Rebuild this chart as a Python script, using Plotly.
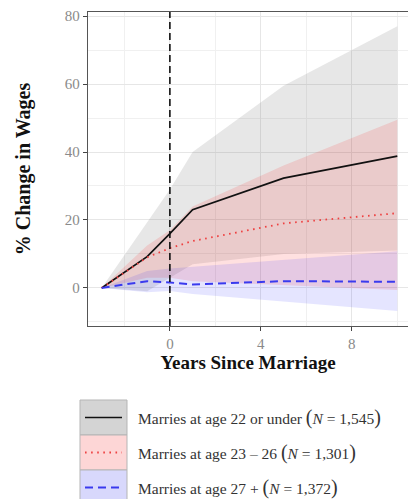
import plotly.graph_objects as go

# ---- data ----
years = [-3, -1, 0, 1, 5, 10]

young_mean = [0, 9.2, 16.0, 23.0, 32.3, 38.8]
young_lo = [0, -1.0, 3.0, 7.0, 10.0, 11.0]
young_hi = [0, 19.5, 29.0, 40.0, 59.5, 77.0]

mid_mean = [0, 9.0, 11.7, 13.8, 19.0, 22.0]
mid_lo = [0, 3.0, 3.0, 2.0, 0.8, -0.6]
mid_hi = [0, 12.5, 17.0, 24.0, 36.0, 49.5]

old_mean = [0, 2.0, 1.6, 1.0, 2.0, 1.8]
old_lo = [0, -1.3, -0.9, -1.8, -4.0, -6.8]
old_hi = [0, 5.0, 5.7, 6.2, 8.3, 10.8]

legend_labels = ["Marries at age 22 or under", "Marries at age 23 \u2013 26", "Marries at age 27 +"]
legend_n = ["1,545", "1,301", "1,372"]

x_ticks = [0, 4, 8]
y_ticks = [0, 20, 40, 60, 80]

# ---- styling ----
SERIF = "Liberation Serif, Times New Roman, serif"
ribbon_fill = ["rgba(120,120,120,0.18)", "rgba(255,0,0,0.12)", "rgba(0,0,255,0.10)"]
line_color = ["#111111", "#EE4040", "#3a3aEE"]
line_dash = ["solid", "1.6px,4.5px", "8px,5px"]
line_width = [1.7, 1.8, 2.0]
key_fill = ["#d4d4d4", "#fdd6d6", "#d8d8fc"]

series = [
    (young_mean, young_lo, young_hi),
    (mid_mean, mid_lo, mid_hi),
    (old_mean, old_lo, old_hi),
]

fig = go.Figure()

# ribbons
for i, (m, lo, hi) in enumerate(series):
    fig.add_trace(go.Scatter(
        x=years + years[::-1],
        y=hi + lo[::-1],
        fill="toself", fillcolor=ribbon_fill[i],
        line=dict(width=0), mode="lines",
        hoverinfo="skip", showlegend=False,
    ))

# lines
for i, (m, lo, hi) in enumerate(series):
    fig.add_trace(go.Scatter(
        x=years, y=m, mode="lines",
        line=dict(color=line_color[i], width=line_width[i], dash=line_dash[i]),
        showlegend=False,
    ))

# vertical line at marriage
fig.add_vline(x=0, line=dict(color="#111111", width=1.6, dash="7px,4px"))

# ---- manual legend (paper coords) ----
L, R, T, B = 88, 0, 12, 173
W, H = 408, 499
pw = W - L - R
ph = H - T - B

def xp(px):
    return (px - L) / pw

def yp(py):
    return (H - B - py) / ph

key_top = [400, 435, 470]
for i in range(3):
    y0, y1 = key_top[i], key_top[i] + 35
    fig.add_shape(type="rect", xref="paper", yref="paper",
                  x0=xp(80), x1=xp(127), y0=yp(y1), y1=yp(y0),
                  fillcolor=key_fill[i], line=dict(color="#b5b5b5", width=1),
                  layer="above")
    yc = (y0 + y1) / 2
    fig.add_shape(type="line", xref="paper", yref="paper",
                  x0=xp(85), x1=xp(122), y0=yp(yc), y1=yp(yc),
                  line=dict(color=line_color[i], width=line_width[i], dash=line_dash[i]),
                  layer="above")
    fig.add_annotation(
        xref="paper", yref="paper", x=xp(136), y=yp(yc),
        xanchor="left", yanchor="middle", showarrow=False,
        text=(legend_labels[i] + " <span style='font-size:20px'>(</span><i>N</i> = "
              + legend_n[i] + "<span style='font-size:20px'>)</span>"),
        font=dict(family=SERIF, size=15.5, color="#333333"),
    )

fig.update_layout(
    width=W, height=H,
    margin=dict(l=L, r=R, t=T, b=B, pad=0),
    paper_bgcolor="white", plot_bgcolor="white",
    showlegend=False,
    font=dict(family=SERIF),
    xaxis=dict(
        range=[-3.6, 10.47],
        tickvals=x_ticks,
        tickfont=dict(family=SERIF, size=15, color="#8a8a8a"),
        ticks="outside", ticklen=4, tickwidth=1.2, tickcolor="#444444",
        showline=True, linecolor="#555555", linewidth=1.3, mirror=True,
        showgrid=True, gridcolor="#e6e6e6", gridwidth=1,
        minor=dict(dtick=2, tick0=0, showgrid=True, gridcolor="#f0f0f0", gridwidth=1),
        zeroline=False,
        title=dict(text="<b>Years Since Marriage</b>", standoff=2,
                   font=dict(family=SERIF, size=19, color="#111111")),
    ),
    yaxis=dict(
        range=[-11.2, 81.2],
        tickvals=y_ticks,
        tickfont=dict(family=SERIF, size=15, color="#8a8a8a"),
        ticks="outside", ticklen=4, tickwidth=1.2, tickcolor="#444444",
        showline=True, linecolor="#555555", linewidth=1.3,
        showgrid=True, gridcolor="#e6e6e6", gridwidth=1,
        minor=dict(dtick=10, tick0=0, showgrid=True, gridcolor="#f0f0f0", gridwidth=1),
        zeroline=False,
        title=dict(text="<b>% Change in Wages</b>", standoff=28,
                   font=dict(family=SERIF, size=20, color="#111111")),
    ),
)

fig.write_html(
    "out.html",
    config={"displayModeBar": False},
    post_script="document.body.style.margin='0';document.body.style.overflow='hidden';",
)
